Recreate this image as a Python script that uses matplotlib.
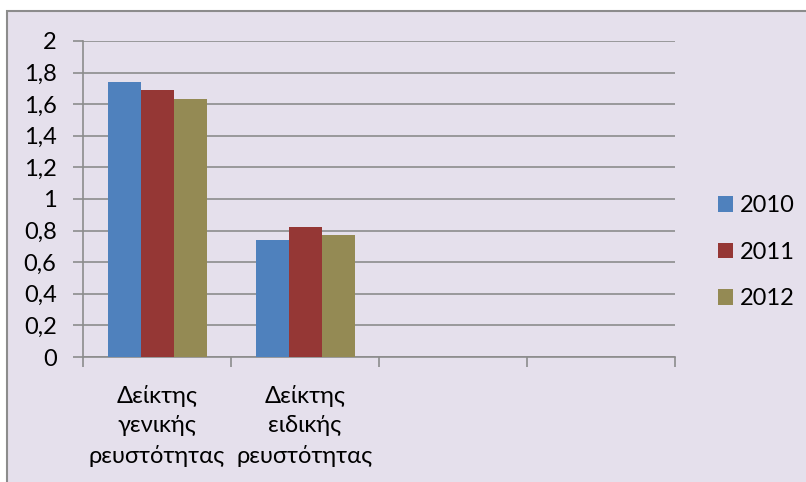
import numpy as np
import matplotlib.pyplot as plt
from matplotlib.patches import Rectangle
from matplotlib.ticker import FuncFormatter

# Data
categories = ['Δείκτης\nγενικής\nρευστότητας', 'Δείκτης\nειδικής\nρευστότητας', '', '']
years = ['2010', '2011', '2012']
values_2010 = [1.74, 0.74]
values_2011 = [1.69, 0.82]
values_2012 = [1.63, 0.77]
colors = ['#4F81BD', '#953735', '#948A54']

plt.rcParams['font.family'] = ['Lato', 'DejaVu Sans']
W, H = 806, 482
FS = 17
fig = plt.figure(figsize=(W / 100, H / 100), dpi=100, facecolor='white')

# chart area background with border (top/left visible)
bg = Rectangle((7 / W, -0.05), 1.1, 1.05 - 11.5 / H, transform=fig.transFigure,
               facecolor='#E5E0EC', edgecolor='#8C8C8C', linewidth=1.5, zorder=-10)
fig.patches.append(bg)

ax = fig.add_axes([83 / W, (H - 357) / H, (675 - 83) / W, (357 - 41) / H])
ax.set_facecolor('none')

x = np.arange(len(categories)) + 0.5
bar_w = 33 / 148
series = [values_2010, values_2011, values_2012]
for i, (vals, yr, c) in enumerate(zip(series, years, colors)):
    pos = x[:len(vals)] + (i - 1) * bar_w
    ax.bar(pos, vals, width=bar_w, color=c, label=yr, zorder=3)


def fmt(v, p):
    s = f'{v:.1f}'.replace('.', ',')
    return s[:-2] if s.endswith(',0') else s


ax.set_xlim(0, len(categories))
ax.set_ylim(0, 2)
ax.set_yticks(np.arange(0, 2.01, 0.2))
ax.yaxis.set_major_formatter(FuncFormatter(fmt))
ax.grid(axis='y', color='#8C8C8C', linewidth=1.2, zorder=0)

ax.set_xticks(np.arange(len(categories) + 1))
ax.set_xticklabels([])
ax.set_xticks(x, minor=True)
ax.set_xticklabels(categories, minor=True, fontsize=FS, linespacing=1.48)
ax.tick_params(axis='x', which='minor', length=0, pad=20)
ax.tick_params(axis='x', which='major', length=7, color='#8C8C8C', width=1.2)
ax.tick_params(axis='y', length=7, color='#8C8C8C', width=1.2, labelsize=FS, pad=12)

for s in ['top', 'right']:
    ax.spines[s].set_visible(False)
for s in ['left', 'bottom']:
    ax.spines[s].set_color('#8C8C8C')
    ax.spines[s].set_linewidth(1.2)

ax.legend(loc='upper left', bbox_to_anchor=(718 / W, 1 - 195 / H), bbox_transform=fig.transFigure,
          frameon=False, fontsize=FS, handlelength=0.64, handleheight=0.64,
          handletextpad=0.3, labelspacing=1.09, borderpad=0, borderaxespad=0)

fig.savefig('out.png', dpi=100, facecolor='white')
